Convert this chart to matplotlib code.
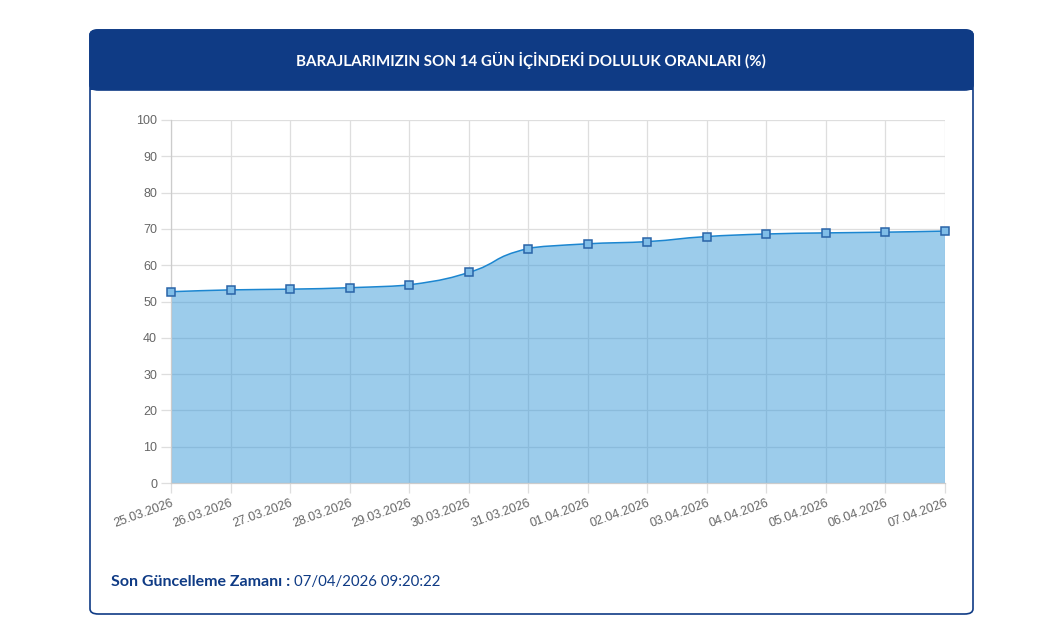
import numpy as np
import matplotlib.pyplot as plt
from matplotlib.patches import FancyBboxPatch, Rectangle, PathPatch
from matplotlib.path import Path

dates = ["25.03.2026", "26.03.2026", "27.03.2026", "28.03.2026", "29.03.2026",
         "30.03.2026", "31.03.2026", "01.04.2026", "02.04.2026", "03.04.2026",
         "04.04.2026", "05.04.2026", "06.04.2026", "07.04.2026"]
doluluk = [52.7, 53.2, 53.4, 53.8, 54.6, 58.0, 64.6, 65.9, 66.5, 67.9,
           68.6, 68.9, 69.1, 69.4]
y_ticks = [0, 10, 20, 30, 40, 50, 60, 70, 80, 90, 100]

title = "BARAJLARIMIZIN SON 14 GÜN İÇİNDEKİ DOLULUK ORANLARI (%)"
footer_label = "Son Güncelleme Zamanı :"
footer_value = "07/04/2026 09:20:22"

NAVY = "#0f3b85"
LINE = "#1c86d0"
FILL = "#3a9ad9"
GRID = "#dedede"
TXT = "#666666"


def spline_path(xs, ys, tension=0.4):
    # same idea as Chart.js bezier curves between points
    verts = [(xs[0], ys[0])]
    codes = [Path.MOVETO]
    n = len(xs)
    cps = []
    for i in range(n):
        p0 = (xs[max(i - 1, 0)], ys[max(i - 1, 0)])
        p1 = (xs[i], ys[i])
        p2 = (xs[min(i + 1, n - 1)], ys[min(i + 1, n - 1)])
        d01 = np.hypot(p1[0] - p0[0], p1[1] - p0[1])
        d12 = np.hypot(p2[0] - p1[0], p2[1] - p1[1])
        s01 = d01 / (d01 + d12) if d01 + d12 else 0
        s12 = d12 / (d01 + d12) if d01 + d12 else 0
        fa, fb = tension * s01, tension * s12
        prev = (p1[0] - fa * (p2[0] - p0[0]), p1[1] - fa * (p2[1] - p0[1]))
        nxt = (p1[0] + fb * (p2[0] - p0[0]), p1[1] + fb * (p2[1] - p0[1]))
        cps.append((prev, nxt))
    for i in range(1, n):
        verts += [cps[i - 1][1], cps[i][0], (xs[i], ys[i])]
        codes += [Path.CURVE4] * 3
    return verts, codes


fig = plt.figure(figsize=(10.45, 6.42), dpi=100)
fig.patch.set_facecolor("white")
W, H = 1045, 642

# card
card = FancyBboxPatch((90 / W, 1 - 614 / H), 883 / W, 584 / H,
                      boxstyle="round,pad=0,rounding_size=0.008",
                      transform=fig.transFigure, facecolor="white",
                      edgecolor=NAVY, linewidth=1.2, zorder=-3)
fig.patches.append(card)
header = FancyBboxPatch((90 / W, 1 - 90 / H), 883 / W, 60 / H,
                        boxstyle="round,pad=0,rounding_size=0.008",
                        transform=fig.transFigure, facecolor=NAVY,
                        edgecolor=NAVY, linewidth=1.2, zorder=-2)
fig.patches.append(header)
fig.patches.append(Rectangle((90 / W, 1 - 90 / H), 883 / W, 20 / H,
                             transform=fig.transFigure, facecolor=NAVY,
                             edgecolor="none", zorder=-2))
fig.text(531 / W, 1 - 60 / H, title, color="white", fontsize=10.9,
         fontweight="bold", family="Lato", ha="center", va="center", zorder=3)

ax = fig.add_axes([171 / W, 1 - 483 / H, 774 / W, 363 / H])
ax.set_facecolor("none")
x = np.arange(len(dates))

verts, codes = spline_path(list(x), doluluk)
ax.add_patch(PathPatch(Path(verts, codes), facecolor="none", edgecolor=LINE,
                       linewidth=1.1, zorder=3))
fill_verts = verts + [(x[-1], 0), (x[0], 0), (x[0], doluluk[0])]
fill_codes = codes + [Path.LINETO, Path.LINETO, Path.CLOSEPOLY]
ax.add_patch(PathPatch(Path(fill_verts, fill_codes), facecolor=FILL,
                       alpha=0.5, edgecolor="none", zorder=2))
ax.plot(x, doluluk, linestyle="none", marker="s", markersize=5.5,
        markerfacecolor="#7fbde8", markeredgecolor="#2a64a8",
        markeredgewidth=1.1, zorder=4, clip_on=False)

ax.set_xlim(x[0], x[-1])
ax.set_ylim(0, 100)
ax.set_yticks(y_ticks)
ax.set_xticks(x)
ax.set_xticklabels(dates, rotation=20, ha="right", rotation_mode="anchor")
ax.grid(True, color=GRID, linewidth=0.9, zorder=1)
ax.set_axisbelow(True)
ax.tick_params(axis="both", colors=GRID, labelcolor=TXT, labelsize=9,
               length=7, width=0.9, pad=3)
for lbl in ax.get_xticklabels() + ax.get_yticklabels():
    lbl.set_family("Liberation Sans")
for side in ["top", "right"]:
    ax.spines[side].set_visible(False)
for side in ["left", "bottom"]:
    ax.spines[side].set_color("#cccccc")
    ax.spines[side].set_linewidth(0.9)

t1 = fig.text(111 / W, 1 - 582 / H, footer_label, color=NAVY, fontsize=11.5,
              fontweight="bold", family="Lato", ha="left", va="center")
fig.canvas.draw()
bb = t1.get_window_extent()
fig.text(bb.x1 / W + 4 / W, 1 - 582 / H, footer_value, color=NAVY,
         fontsize=10.8, family="Lato", ha="left", va="center")

fig.savefig("out.png", dpi=100)
